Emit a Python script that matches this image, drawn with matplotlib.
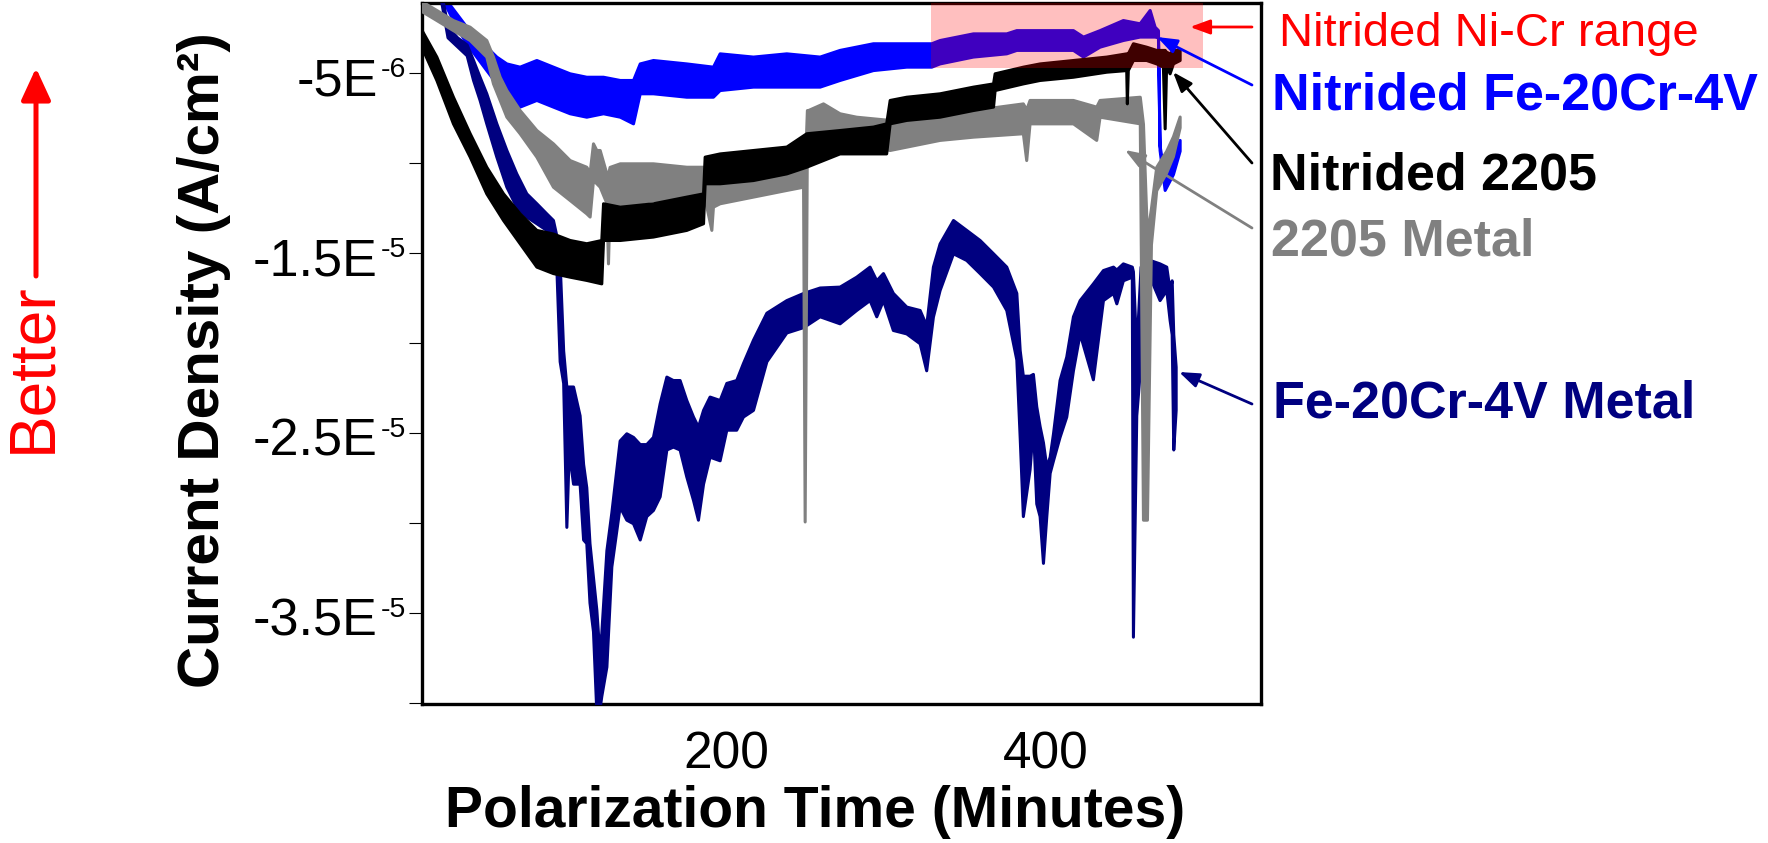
import numpy as np
import matplotlib
matplotlib.use("Agg")
import matplotlib.pyplot as plt
from matplotlib.patches import Rectangle

plt.rcParams['font.family'] = ['Liberation Sans', 'DejaVu Sans']

SCALE = 1e-6  # values below are in micro-A/cm^2 (negative = cathodic)

# ---- Nitrided Fe-20Cr-4V (blue) : time, upper and lower edge of the noisy trace
nit_fecrv_t = [15, 24.2, 30.5, 36.8, 43, 49.3, 55.6, 61.9, 70.2, 80.7, 91.1, 101.6, 112, 122.5, 133,
               141.3, 145.5, 153.8, 174.7, 191.4, 195.6, 216.5, 237.4, 258.3, 270.8, 291.7, 312.6,
               328.3, 333.5, 354.4, 375.3, 381.6, 396.2, 417.1, 423.4, 433.8, 448.4, 458.9, 465.2,
               468.3, 470.4, 471.4, 474.6, 479.8, 484]
nit_fecrv_hi = [-0.2, -0.93, -1.67, -2.41, -2.78, -3.52, -4.07, -4.45, -4.63, -4.26, -4.63, -5.0, -5.19,
                -5.19, -5.37, -5.37, -4.45, -4.26, -4.45, -4.63, -3.89, -4.07, -3.89, -4.07, -3.7, -3.33,
                -3.33, -3.33, -3.15, -2.78, -2.78, -2.6, -2.6, -2.6, -2.96, -2.6, -2.04, -2.22, -1.48,
                -2.41, -2.6, -9.0, -10.8, -9.6, -8.7]
nit_fecrv_lo = [-0.6, -1.3, -2.41, -3.33, -4.07, -4.82, -5.56, -6.30, -6.85, -6.48, -6.85, -7.22, -7.41,
                -7.22, -7.41, -7.78, -6.11, -6.11, -6.3, -6.3, -5.93, -5.74, -5.74, -5.74, -5.37, -4.82,
                -4.63, -4.63, -4.45, -4.07, -3.89, -3.7, -3.7, -3.7, -4.07, -3.52, -3.15, -2.96, -2.96,
                -2.96, -3.0, -9.26, -11.48, -10.6, -9.3]

# ---- Nitrided 2205 (black)
nit_2205_t = [7.5, 18, 28.4, 38.9, 49.3, 59.8, 70.2, 80.7, 91.1, 101.6, 112, 121.4, 122.5, 133, 153.8,
              174.7, 185.2, 186.2, 195.6, 216.5, 237.4, 249.9, 270.8, 291.7, 300, 302.2, 312.6, 333.5,
              354.4, 367, 368, 385.7, 396.2, 417.1, 438, 450.5, 450.9, 451.5, 454.7, 463, 469.3, 473.5,
              474.6, 475.5, 477.7, 479.8, 484]
nit_2205_hi = [-2.4, -4.07, -6.3, -8.33, -10.19, -11.67, -12.78, -13.7, -13.9, -14.26, -14.44, -14.26,
               -12.22, -12.41, -12.22, -11.85, -11.67, -9.63, -9.45, -9.26, -9.07, -8.33, -8.15, -7.96,
               -7.78, -6.48, -6.3, -6.11, -5.74, -5.56, -5.0, -4.63, -4.45, -4.26, -4.07, -3.89, -3.89,
               -3.89, -3.33, -3.52, -3.7, -3.7, -3.7, -3.8, -3.89, -3.7, -3.7]
nit_2205_lo = [-3.3, -5.37, -7.78, -9.63, -11.67, -13.15, -14.44, -15.74, -16.1, -16.3, -16.48, -16.67,
               -14.26, -14.26, -14.07, -13.7, -13.33, -11.11, -11.11, -10.93, -10.56, -10.19, -9.45, -9.45,
               -9.45, -7.78, -7.59, -7.41, -7.04, -6.85, -5.93, -5.56, -5.37, -5.19, -4.91, -4.82, -6.67,
               -4.82, -4.26, -4.26, -4.45, -4.63, -8.06, -4.6, -5.0, -4.45, -4.26]

# ---- 2205 Metal (gray)
metal_2205_t = [7.5, 18, 28.4, 38.9, 49.3, 53.5, 57.7, 61.9, 70.2, 80.7, 91.1, 101.6, 112, 114.1, 116.2,
                118.3, 120.4, 124.6, 125.6, 126.6, 133, 153.8, 174.7, 185.2, 187.3, 190.4, 191.4, 195.6,
                216.5, 237.4, 247.9, 248.9, 250.3, 251, 260.4, 270.8, 281.2, 302.2, 333.5, 354.4, 385.7,
                387.8, 389.9, 417.1, 431.7, 433.8, 459, 461, 463.5, 466, 469.3, 475.6, 479.8, 484]
metal_2205_hi = [-0.93, -1.48, -2.04, -2.41, -3.15, -4.07, -5.19, -5.93, -7.04, -8.15, -8.89, -9.82,
                 -10.19, -10.5, -8.89, -9.26, -9.26, -10.56, -10.6, -10.2, -10.0, -10.0, -10.19, -10.19,
                 -11.11, -11.11, -11.11, -11.11, -10.74, -10.56, -10.37, -10.5, -7.04, -7.04, -6.67,
                 -7.22, -7.41, -7.59, -7.22, -7.04, -6.67, -7.0, -6.48, -6.48, -6.85, -6.48, -6.3, -7.8,
                 -14.0, -12.5, -10.2, -9.3, -8.5, -7.4]
metal_2205_lo = [-1.48, -2.04, -2.6, -3.15, -4.07, -5.56, -6.48, -7.41, -8.33, -9.63, -11.3, -12.04,
                 -12.78, -12.96, -10.93, -11.11, -11.3, -12.2, -15.56, -12.2, -12.41, -12.04, -12.04,
                 -11.85, -12.41, -13.7, -12.41, -12.22, -11.85, -11.48, -11.3, -29.9, -8.7, -8.7, -8.33,
                 -9.07, -8.89, -9.26, -8.7, -8.52, -8.33, -9.82, -7.78, -7.78, -8.7, -7.41, -7.78, -29.8,
                 -29.8, -14.5, -11.5, -10.5, -9.6, -8.0]

# ---- Fe-20Cr-4V Metal (navy)
metal_fecrv_t = [21, 25, 31, 37, 41, 45.1, 49.3, 55.6, 61.9, 68.1, 74.4, 80.7, 86.9, 91.1, 93.2, 95.3,
                 97.5, 99.5, 101, 103.7, 107.8, 110, 112, 114, 116.2, 118.3, 120, 121.4, 124.6, 127.7,
                 132.9, 137.1, 141.3, 145.5, 149.6, 153.8, 158, 162.2, 166.3, 170.5, 174.7, 178.9, 182,
                 185.2, 189.3, 195.6, 199.8, 206, 210.2, 216.5, 224.9, 237.4, 248, 258.3, 270.8, 281.2,
                 289.6, 293.8, 298, 304.2, 312.6, 321, 325.1, 329.3, 333.5, 341.9, 350.2, 358.6, 367,
                 375.3, 381.6, 383.7, 385.7, 389.9, 392, 394.1, 396.2, 398.3, 400.4, 402.5, 404.6, 408.7,
                 412.9, 417.1, 421.3, 429.6, 435.9, 442.2, 444.3, 448.4, 454, 454.7, 456.8, 459.5, 465.2,
                 471.4, 475.6, 477.7, 479, 480, 481.5]
metal_fecrv_hi = [-0.5, -2.4, -3.0, -3.4, -4.26, -5.19, -6.11, -7.78, -9.26, -10.56, -11.67, -12.22,
                  -12.78, -13.15, -14.0, -15.5, -20.4, -22.4, -22.4, -22.4, -24.0, -26.7, -28.0, -31.1,
                  -33.0, -34.8, -37.0, -36.1, -31.5, -29.4, -25.4, -25.0, -25.2, -25.6, -25.6, -25.2,
                  -23.33, -21.85, -22.04, -22.04, -23.15, -24.07, -24.63, -23.7, -22.96, -23.15, -22.2,
                  -22.04, -21.1, -19.8, -18.3, -17.6, -17.2, -16.9, -16.85, -16.3, -15.74, -16.5, -16.1,
                  -17.2, -17.96, -18.15, -19.0, -15.74, -14.45, -13.15, -13.7, -14.26, -15.0, -15.74,
                  -17.2, -20.37, -21.8, -21.8, -21.7, -23.5, -24.6, -25.5, -26.85, -26.3, -25.0, -22.04,
                  -20.74, -18.5, -17.6, -16.67, -15.93, -15.74, -15.9, -15.56, -15.74, -16.0, -20.4,
                  -15.74, -15.37, -15.56, -15.74, -17.04, -16.5, -19.5, -21.3]
metal_fecrv_lo = [-1.0, -3.0, -3.5, -4.0, -5.37, -6.48, -7.78, -9.63, -11.3, -12.41, -12.96, -13.33,
                  -13.7, -14.26, -15.74, -21.0, -22.2, -30.2, -26.0, -27.8, -27.8, -30.9, -31.1, -34.4,
                  -36.0, -40.5, -40.5, -39.6, -37.96, -32.4, -29.07, -29.8, -30.0, -30.9, -29.6, -29.26,
                  -28.5, -25.9, -25.74, -25.9, -27.4, -28.7, -29.8, -27.8, -26.3, -26.5, -24.8, -24.8,
                  -24.07, -23.7, -21.0, -19.4, -19.1, -18.5, -18.89, -18.15, -17.6, -18.5, -17.6, -19.26,
                  -19.45, -20.0, -21.5, -18.52, -17.04, -15.0, -15.37, -16.1, -16.85, -18.15, -20.9,
                  -25.2, -29.6, -27.0, -24.6, -28.9, -29.6, -32.2, -29.6, -27.2, -26.5, -25.2, -24.07,
                  -21.5, -19.45, -22.0, -17.6, -17.2, -17.78, -16.5, -16.3, -36.3, -24.0, -21.0, -16.3,
                  -17.6, -17.04, -18.7, -19.5, -25.9, -23.7]

# ---- Nitrided Ni-Cr range (shaded box)
nicr_t_range = (328.3, 498.4)
nicr_i_range = (-4.72, 0.0)

# ---- axes
x_ticks = [200, 400]
x_ticklabels = ['200', '400']
y_major = [-5e-6, -1.5e-5, -2.5e-5, -3.5e-5]
y_major_mantissa = ['-5E', '-1.5E', '-2.5E', '-3.5E']
y_major_exponent = ['-6', '-5', '-5', '-5']
y_minor = [-1e-5, -2e-5, -3e-5, -4e-5]
x_lim = (9, 535)
y_lim = (-40.04e-6, -1.11e-6)

BLUE = '#0000FF'
NAVY = '#000080'
GRAY = '#808080'
BLACK = '#000000'

W, H = 1768, 843
fig = plt.figure(figsize=(W / 100, H / 100), dpi=100)
ax = fig.add_axes([422 / W, 1 - 704 / H, (1261 - 422) / W, (704 - 3.3) / H])


def band(t, hi, lo, color, z):
    t = np.asarray(t, float)
    hi = np.asarray(hi, float) * SCALE
    lo = np.asarray(lo, float) * SCALE
    ax.fill_between(t, lo, hi, facecolor=color, edgecolor=color, lw=2.2, zorder=z)


band(nit_fecrv_t, nit_fecrv_hi, nit_fecrv_lo, BLUE, 2)
band(metal_fecrv_t, metal_fecrv_hi, metal_fecrv_lo, NAVY, 3)
band(metal_2205_t, metal_2205_hi, metal_2205_lo, GRAY, 4)
band(nit_2205_t, nit_2205_hi, nit_2205_lo, BLACK, 5)

ax.add_patch(Rectangle((nicr_t_range[0], nicr_i_range[0] * SCALE),
                       nicr_t_range[1] - nicr_t_range[0],
                       (nicr_i_range[1] - nicr_i_range[0]) * SCALE,
                       facecolor='red', alpha=0.25, edgecolor='none', zorder=6))

ax.set_xlim(*x_lim)
ax.set_ylim(*y_lim)
ax.set_xticks(x_ticks)
ax.set_xticklabels(x_ticklabels)
ax.set_yticks(y_major)
ax.set_yticklabels([''] * len(y_major))
ax.set_yticks(y_minor, minor=True)
ax.tick_params(axis='y', which='both', direction='out', length=9.4, width=0.8, pad=2)
ax.tick_params(axis='x', which='both', length=0, pad=19, labelsize=37)
for s in ax.spines.values():
    s.set_linewidth(2.4)

# y tick labels in "mantissa E^exponent" form, anchored to the ticks
for yv, man, ex in zip(y_major, y_major_mantissa, y_major_exponent):
    ax.annotate(man, xy=(0, yv), xycoords=('axes fraction', 'data'),
                xytext=(-32.0, -15.7), textcoords='offset points',
                ha='right', va='baseline', fontsize=37.5, annotation_clip=False)
    ax.annotate(ex, xy=(0, yv), xycoords=('axes fraction', 'data'),
                xytext=(-11.5, -3.0), textcoords='offset points',
                ha='right', va='baseline', fontsize=20.5, annotation_clip=False)

# axis titles
fig.text(815 / W, 1 - 812 / H, 'Polarization Time (Minutes)', fontsize=41, fontweight='bold',
         ha='center', va='center')
fig.text(204 / W, 1 - 360 / H, 'Current Density (A/cm²)', fontsize=42, fontweight='bold',
         rotation=90, ha='center', va='center')

# "Better" with arrow
fig.text(33 / W, 1 - 368 / H, 'Better', fontsize=46, color='red', rotation=90,
         ha='center', va='center')
ax.annotate('', xy=(36, H - 68), xytext=(36, H - 276), xycoords='figure pixels',
            textcoords='figure pixels', annotation_clip=False,
            arrowprops=dict(arrowstyle='-|>,head_length=0.65,head_width=0.3', color='red',
                            lw=3.6, mutation_scale=30, shrinkA=0, shrinkB=0))

# series labels on the right
labels = [
    ('Nitrided Ni-Cr range', 1279, 45.7, 'red', 'normal', 34),
    ('Nitrided Fe-20Cr-4V', 1272, 110, BLUE, 'bold', 37.5),
    ('Nitrided 2205', 1270, 190, BLACK, 'bold', 37.5),
    ('2205 Metal', 1271, 255, GRAY, 'bold', 37.5),
    ('Fe-20Cr-4V Metal', 1273, 418, NAVY, 'bold', 37.5),
]
for txt, x, y, c, w, fs in labels:
    fig.text(x / W, 1 - y / H, txt, color=c, fontweight=w, fontsize=fs, ha='left', va='baseline')

pointers = [
    ((1252, 27), (1190, 27), 'red'),
    ((1252, 85), (1157, 37), BLUE),
    ((1252, 163), (1173, 72), BLACK),
    ((1252, 228), (1125, 150), GRAY),
    ((1252, 404), (1179, 372), NAVY),
]
for (x0, y0), (x1, y1), c in pointers:
    ax.annotate('', xy=(x1, H - y1), xytext=(x0, H - y0), xycoords='figure pixels',
                textcoords='figure pixels', annotation_clip=False, zorder=8,
                arrowprops=dict(arrowstyle='-|>,head_length=0.6,head_width=0.22', color=c,
                                lw=2.0, mutation_scale=20, shrinkA=0, shrinkB=0))

fig.savefig('out.png', dpi=100)
